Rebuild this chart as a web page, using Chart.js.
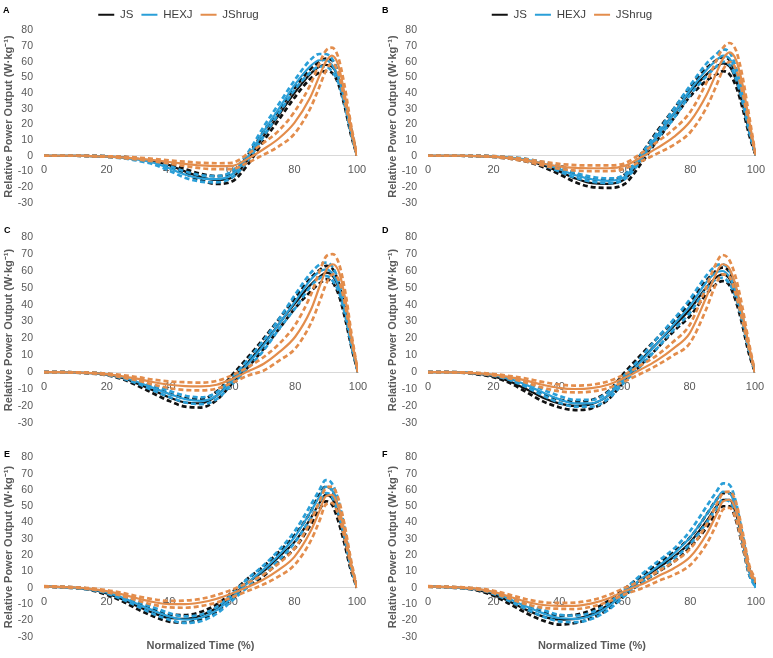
<!DOCTYPE html>
<html>
<head>
<meta charset="utf-8">
<title>Relative power output curves</title>
<script src="https://cdn.jsdelivr.net/npm/chart.js@4.4.1/dist/chart.umd.min.js"></script>
<style>
  body { margin: 0; background: #fff; font-family: "Liberation Sans", Arial, sans-serif; }
  #page { position: relative; width: 773px; height: 658px; overflow: hidden; background: #fff; }
  .panel { position: absolute; }
  .tag { position: absolute; font-size: 9px; font-weight: bold; color: #000; line-height: 1; }
</style>
</head>
<body>
<div id="page">
  <div class="panel" style="left:0;top:0;width:385px;height:220px"><canvas id="chartA"></canvas></div>
  <div class="panel" style="left:385px;top:0;width:388px;height:220px"><canvas id="chartB"></canvas></div>
  <div class="panel" style="left:0;top:220px;width:385px;height:220px"><canvas id="chartC"></canvas></div>
  <div class="panel" style="left:385px;top:220px;width:388px;height:220px"><canvas id="chartD"></canvas></div>
  <div class="panel" style="left:0;top:440px;width:385px;height:218px"><canvas id="chartE"></canvas></div>
  <div class="panel" style="left:385px;top:440px;width:388px;height:218px"><canvas id="chartF"></canvas></div>
  <div class="tag" style="left:3px;top:6px">A</div>
  <div class="tag" style="left:382px;top:6px">B</div>
  <div class="tag" style="left:4px;top:226px">C</div>
  <div class="tag" style="left:382px;top:226px">D</div>
  <div class="tag" style="left:4px;top:450px">E</div>
  <div class="tag" style="left:382px;top:450px">F</div>
</div>

<script>
// --- Data ---
const seriesNames = ['JS', 'HEXJ', 'JShrug']
const normTime = [0, 5, 10, 15, 20, 25, 30, 35, 40, 45, 50, 55, 60, 65, 70, 75, 80, 85, 88, 90, 92, 94, 96, 98, 100]

// Panel A
const jsMeanA = [0, 0, 0, -0.2, -0.5, -1, -2, -3.5, -6, -10, -13.5, -15.5, -14, -3, 12, 26, 40, 52, 57, 58, 57, 50, 35, 16, 0]
const jsUpA = [0, 0, 0, 0, -0.3, -0.7, -1.5, -2.8, -5, -8.5, -11.5, -13, -11.5, 0, 15, 29, 43, 55, 60, 62, 61, 53, 37, 18, 0]
const jsLowA = [0, 0, 0, -0.3, -0.7, -1.3, -2.5, -4.2, -7, -11.5, -15.5, -18, -16.5, -6, 9, 23, 37, 49, 53, 54, 53, 46, 32, 14, 0]
const hexMeanA = [0, 0, 0, -0.2, -0.5, -1.2, -2.5, -4.5, -8, -12, -14.5, -15, -12, -1, 15, 30, 45, 57, 61, 61, 58, 50, 35, 16, 0]
const hexUpA = [0, 0, 0, 0, -0.3, -0.8, -1.8, -3.5, -6.5, -10, -12.5, -13, -10, 1.5, 18, 33, 48, 61, 65, 65, 62, 53, 37, 17, 0]
const hexLowA = [0, 0, 0, -0.3, -0.7, -1.6, -3.2, -5.5, -9.5, -14, -16.5, -17, -14, -3.5, 12, 27, 42, 53, 57, 57, 54, 47, 33, 15, 0]
const shrMeanA = [0, 0, 0, -0.2, -0.5, -1, -1.8, -2.8, -4, -5.2, -6.2, -6.7, -6.5, -2, 4, 11, 21, 37, 51, 60, 64, 58, 40, 19, 0]
const shrUpA = [0, 0, 0, 0, -0.3, -0.6, -1.2, -2, -3, -3.8, -4.5, -4.8, -4.5, 1, 8, 16, 28, 45, 59, 67, 69, 63, 45, 21, 0]
const shrLowA = [0, 0, 0, -0.3, -0.7, -1.4, -2.4, -3.6, -5, -6.6, -8, -8.6, -8.5, -4.5, 0.5, 6, 14, 30, 44, 54, 59, 53, 36, 17, 0]

// Panel B
const jsMeanB = [0, 0, 0, -0.2, -0.6, -1.5, -3, -6, -10, -14.5, -17.5, -18, -15, -2, 13, 27, 41, 52, 57, 59, 57, 48, 33, 15, 0]
const jsUpB = [0, 0, 0, 0, -0.4, -1.1, -2.3, -4.8, -8.3, -12, -15, -15.5, -12, 1, 16, 30, 44, 56, 61, 63, 61, 51, 35, 16, 0]
const jsLowB = [0, 0, 0, -0.3, -0.8, -1.9, -3.7, -7.2, -11.7, -17, -20, -20.5, -18, -5, 10, 24, 38, 48, 52, 54, 52, 44, 30, 13, 0]
const hexMeanB = [0, 0, 0, -0.2, -0.5, -1.2, -2.5, -5, -8.5, -12.5, -15, -16, -13.5, -1, 13, 27, 42, 55, 61, 64, 62, 53, 37, 17, 0]
const hexUpB = [0, 0, 0, 0, -0.3, -0.9, -2, -4, -7, -11, -13.5, -14.5, -12, 1, 15, 30, 45, 59, 65, 68, 66, 56, 39, 18, 0]
const hexLowB = [0, 0, 0, -0.3, -0.7, -1.5, -3, -6, -10, -14, -16.5, -17.5, -15, -3, 11, 24, 39, 51, 57, 60, 58, 49, 34, 15, 0]
const shrMeanB = [0, 0, 0, -0.2, -0.6, -1.5, -3, -5, -6.8, -7.8, -8, -8, -6.5, -1, 5, 12, 22, 39, 53, 62, 66, 61, 45, 22, 0]
const shrUpB = [0, 0, 0, 0, -0.3, -1, -2.2, -3.8, -5.2, -6, -6.2, -6.2, -4.8, 1.5, 9, 17, 28, 47, 61, 69, 72, 67, 50, 25, 0]
const shrLowB = [0, 0, 0, -0.3, -0.8, -1.9, -3.7, -6.2, -8.3, -9.5, -9.8, -9.8, -8.2, -3.5, 1.5, 7, 15, 31, 45, 55, 60, 55, 40, 19, 0]

// Panel C
const jsMeanC = [0, 0, -0.2, -0.6, -1.5, -3.5, -7, -11, -15, -18, -18.5, -14, -4, 6, 17, 29, 41, 52, 57, 59, 57, 49, 34, 15, 0]
const jsUpC = [0, 0, -0.1, -0.4, -1.1, -2.8, -5.8, -9.2, -12.8, -15.5, -16, -11.5, -1.5, 9, 20, 32, 44, 56, 61, 63, 61, 52, 36, 16, 0]
const jsLowC = [0, 0, -0.3, -0.8, -1.9, -4.2, -8.2, -12.8, -17.2, -20.5, -21, -16.5, -6.5, 3, 14, 26, 38, 48, 53, 55, 53, 45, 31, 14, 0]
const hexMeanC = [0, 0, -0.2, -0.5, -1.3, -3, -6, -9.5, -13, -16, -17, -14, -5, 5, 16, 29, 42, 55, 60, 61, 58, 50, 35, 16, 0]
const hexUpC = [0, 0, -0.1, -0.3, -0.9, -2.3, -5, -8, -11.2, -14, -15, -12, -3, 7.5, 19, 32, 46, 59, 64, 65, 62, 53, 37, 17, 0]
const hexLowC = [0, 0, -0.3, -0.7, -1.7, -3.7, -7, -11, -14.8, -18, -19, -16, -7, 2.5, 13, 26, 38, 51, 56, 57, 54, 47, 33, 15, 0]
const shrMeanC = [0, 0, -0.2, -0.5, -1.2, -2.5, -4, -6, -7.5, -8.3, -8.5, -7.5, -4, 0.5, 5, 12, 21, 37, 52, 61, 64, 59, 43, 20, 0]
const shrUpC = [0, 0, -0.1, -0.3, -0.8, -1.8, -3, -4.5, -5.5, -6, -6.2, -5.2, -1.8, 3, 9, 17, 28, 46, 61, 69, 70, 64, 47, 22, 0]
const shrLowC = [0, 0, -0.3, -0.7, -1.6, -3.2, -5, -7.5, -9.5, -10.6, -10.8, -9.8, -6.2, -2, 1, 7, 14, 29, 43, 53, 58, 54, 39, 18, 0]

// Panel D
const jsMeanD = [0, 0, -0.2, -1, -2.5, -5.5, -10, -15, -18.5, -20, -19, -14, -3, 7, 17, 27, 37, 50, 56, 58, 56, 47, 32, 14, 0]
const jsUpD = [0, 0, -0.1, -0.7, -2, -4.5, -8.3, -12.8, -16.2, -17.5, -16.5, -11.5, -0.5, 10, 20, 30, 41, 54, 60, 62, 60, 51, 35, 15, 0]
const jsLowD = [0, 0, -0.3, -1.3, -3, -6.5, -11.7, -17.2, -20.8, -22.5, -21.5, -16.5, -5.5, 4, 14, 24, 33, 46, 52, 54, 52, 43, 29, 12, 0]
const hexMeanD = [0, 0, -0.2, -0.7, -1.8, -4, -7.5, -12, -16, -18.5, -18.5, -14, -4, 6, 17, 28, 39, 53, 59, 60, 57, 48, 33, 15, 0]
const hexUpD = [0, 0, -0.1, -0.5, -1.4, -3.3, -6.3, -10.3, -14, -16.5, -16.5, -12, -2, 8.5, 20, 31, 43, 57, 63, 64, 61, 51, 35, 16, 0]
const hexLowD = [0, 0, -0.3, -0.9, -2.2, -4.7, -8.7, -13.7, -18, -20.5, -20.5, -16, -6, 3.5, 14, 25, 35, 49, 55, 56, 53, 45, 31, 14, 0]
const shrMeanD = [0, 0, -0.2, -0.6, -1.5, -3, -5, -7.5, -9.3, -10, -9.5, -7.5, -3.5, 1.5, 7, 14, 23, 44, 58, 64, 62, 52, 36, 17, 0]
const shrUpD = [0, 0, -0.1, -0.4, -1.1, -2.3, -3.8, -5.8, -7.3, -8, -7.5, -5.5, -1.5, 4, 10, 18, 28, 50, 64, 69.5, 67, 57, 40, 19, 0]
const shrLowD = [0, 0, -0.3, -0.8, -1.9, -3.7, -6.2, -9.2, -11.3, -12, -11.5, -9.5, -5.5, -1, 4, 10, 17, 37, 52, 58, 57, 47, 32, 15, 0]

// Panel E
const jsMeanE = [0.8, 0.5, 0, -1, -3.5, -7, -11.5, -15.5, -18.5, -19, -17, -12.5, -5, 3, 10, 19, 28, 42, 52, 57, 55, 45, 30, 13, 0]
const jsUpE = [0.8, 0.6, 0.2, -0.6, -2.8, -5.8, -9.8, -13.5, -16.3, -16.7, -14.8, -10.3, -2.8, 5.5, 13, 22, 32, 46, 57, 62, 60, 49, 33, 14, 0]
const jsLowE = [0.8, 0.4, -0.2, -1.4, -4.2, -8.2, -13.2, -17.5, -20.7, -21.3, -19.2, -14.7, -7.2, 0.5, 7, 16, 24, 38, 48, 53, 51, 41, 27, 11, 0]
const hexMeanE = [0.8, 0.5, 0, -0.8, -2.8, -6, -10, -14, -17.5, -19.5, -18.5, -14, -6, 3, 11, 20, 31, 46, 56, 62, 60, 50, 34, 15, 0]
const hexUpE = [0.9, 0.6, 0.2, -0.5, -2.2, -5, -8.5, -12, -15.5, -17.5, -16.5, -12, -4, 5.5, 13.5, 23, 34.5, 50, 60, 66, 64, 54, 37, 16, 0]
const hexLowE = [0.7, 0.4, -0.2, -1.1, -3.4, -7, -11.5, -16, -19.5, -21.5, -20.5, -16, -8, 0.5, 8.5, 17, 27.5, 42, 52, 58, 56, 46, 31, 13, 0]
const shrMeanE = [0.8, 0.6, 0.2, -0.6, -2, -4, -6.5, -8.7, -10, -10, -9, -6.8, -3.5, 0.5, 5, 11, 19, 34, 47, 56, 57, 50, 35, 16, 0]
const shrUpE = [1, 0.8, 0.4, -0.3, -1.4, -3.1, -5.2, -7, -8, -7.8, -6.8, -4.5, -1.2, 3, 8, 15, 24, 40, 53, 61, 62, 55, 39, 18, 0]
const shrLowE = [0.6, 0.4, 0, -0.9, -2.6, -4.9, -7.8, -10.4, -12, -12.2, -11.2, -9.1, -5.8, -2, 2, 7, 14, 28, 41, 51, 52, 45, 31, 14, 0]

// Panel F
const jsMeanF = [0.8, 0.5, 0, -1.2, -4, -8.5, -13.5, -17.5, -19.5, -19, -16, -10.5, -2.5, 5, 12, 19, 28, 41, 50, 54, 54, 45, 28, 10, 2]
const jsUpF = [0.9, 0.6, 0.2, -0.8, -3.2, -7, -11.5, -15, -17, -16.5, -13.5, -8, -0.5, 7, 14.5, 22, 31, 45, 54, 58, 58, 49, 31, 12, 2]
const jsLowF = [0.7, 0.4, -0.2, -1.6, -4.8, -10, -15.5, -20, -22.5, -21.5, -18.5, -13, -4.5, 3, 9.5, 16, 25, 37, 46, 50, 50, 41, 25, 8, 2]
const hexMeanF = [0.8, 0.5, 0, -0.8, -3, -7, -11.5, -15.5, -18.5, -19, -17, -11.5, -3, 5.5, 13, 21, 31, 45, 54, 59, 58, 48, 29, 10, 0]
const hexUpF = [0.9, 0.6, 0.2, -0.5, -2.3, -5.8, -10, -13.5, -16.5, -17, -15, -9.5, -1, 8, 16, 24, 35, 50, 59, 64, 63, 52, 32, 11, 0]
const hexLowF = [0.7, 0.4, -0.2, -1.1, -3.7, -8.2, -13, -17.5, -20.5, -21, -19, -13.5, -5, 3, 10, 18, 27, 40, 49, 54, 53, 44, 26, 8, 0]
const shrMeanF = [0.8, 0.6, 0.2, -0.6, -2.5, -5.5, -8.5, -10.5, -11, -11, -9.5, -6.5, -2, 2, 7, 12, 19, 33, 45, 53, 54, 47, 30, 12, 4]
const shrUpF = [1, 0.8, 0.4, -0.3, -1.8, -4.3, -7, -8.8, -9.2, -9, -7.5, -4.5, 0, 4.5, 10, 16, 24, 39, 51, 58, 59, 52, 34, 14, 5]
const shrLowF = [0.6, 0.4, 0, -0.9, -3.2, -6.7, -10, -12.2, -12.8, -13, -11.5, -8.5, -4, -0.5, 4, 8, 14, 27, 39, 48, 49, 42, 26, 10, 3]

// --- Styles ---
const seriesColors = ['#111111', '#2a9fd8', '#e38d4c']
const drawOrder = [3, 2, 1] // orange on top, black at the bottom

Chart.defaults.font.family = '"Liberation Sans", Arial, sans-serif'
Chart.defaults.color = '#595959'

// --- Panel layout (canvas sizes come from the HTML) ---
const panels = [
  { id: 'A', sets: [[jsMeanA, jsUpA, jsLowA], [hexMeanA, hexUpA, hexLowA], [shrMeanA, shrUpA, shrLowA]],
    legend: true, xTitle: false, yWidth: 44, titlePad: 2, pad: { top: 1, right: 28, bottom: 11, left: 0 } },
  { id: 'B', sets: [[jsMeanB, jsUpB, jsLowB], [hexMeanB, hexUpB, hexLowB], [shrMeanB, shrUpB, shrLowB]],
    legend: true, xTitle: false, yWidth: 43, titlePad: 1, pad: { top: 1, right: 14, bottom: 11, left: 0 } },
  { id: 'C', sets: [[jsMeanC, jsUpC, jsLowC], [hexMeanC, hexUpC, hexLowC], [shrMeanC, shrUpC, shrLowC]],
    legend: false, xTitle: false, yWidth: 44, titlePad: 2, pad: { top: 11, right: 27, bottom: 9, left: 0 } },
  { id: 'D', sets: [[jsMeanD, jsUpD, jsLowD], [hexMeanD, hexUpD, hexLowD], [shrMeanD, shrUpD, shrLowD]],
    legend: false, xTitle: false, yWidth: 43, titlePad: 1, pad: { top: 11, right: 18, bottom: 9, left: 0 } },
  { id: 'E', sets: [[jsMeanE, jsUpE, jsLowE], [hexMeanE, hexUpE, hexLowE], [shrMeanE, shrUpE, shrLowE]],
    legend: false, xTitle: true, yWidth: 44, titlePad: 2, pad: { top: 13, right: 28, bottom: 0, left: 0 } },
  { id: 'F', sets: [[jsMeanF, jsUpF, jsLowF], [hexMeanF, hexUpF, hexLowF], [shrMeanF, shrUpF, shrLowF]],
    legend: false, xTitle: true, yWidth: 43, titlePad: 1, pad: { top: 13, right: 15, bottom: 0, left: 0 } },
]

// one line dataset; dashed ones are the +/- SD bands
function makeSet(name, values, color, order, dashed) {
  return {
    label: dashed ? name + ' SD' : name,
    data: values.map((v, i) => ({ x: normTime[i], y: v })),
    borderColor: color,
    backgroundColor: color,
    borderWidth: dashed ? 2.7 : 2.2,
    borderDash: dashed ? [5, 3] : [],
    pointRadius: 0,
    tension: 0.4,
    cubicInterpolationMode: 'monotone',
    fill: false,
    order: order,
  }
}

panels.forEach((p) => {
  const datasets = []
  p.sets.forEach((group, s) => {
    const [mean, up, low] = group
    datasets.push(makeSet(seriesNames[s], mean, seriesColors[s], drawOrder[s], false))
    datasets.push(makeSet(seriesNames[s], up, seriesColors[s], drawOrder[s], true))
    datasets.push(makeSet(seriesNames[s], low, seriesColors[s], drawOrder[s], true))
  })

  new Chart(document.getElementById('chart' + p.id), {
    type: 'line',
    data: { datasets },
    options: {
      responsive: true,
      maintainAspectRatio: false,
      animation: false,
      events: [],
      layout: { padding: p.pad },
      scales: {
        x: {
          type: 'linear',
          position: { y: 0 },
          min: 0,
          max: 100,
          afterFit: (scale) => { scale.height = 0 },
          grid: { display: false, drawTicks: false },
          border: { display: true, color: '#d9d9d9', width: 1 },
          ticks: { stepSize: 20, padding: 8, maxRotation: 0, font: { size: 11 }, color: '#595959' },
        },
        y: {
          min: -30,
          max: 80,
          afterFit: (scale) => { scale.width = p.yWidth },
          grid: { display: false, drawTicks: false },
          border: { display: false },
          ticks: { stepSize: 10, padding: 11, font: { size: 10.5 }, color: '#595959' },
          title: {
            display: true,
            text: 'Relative Power Output (W·kg⁻¹)',
            font: { size: 11, weight: 'bold' },
            color: '#595959',
            padding: { top: p.titlePad, bottom: 0 },
          },
        },
      },
      plugins: {
        tooltip: { enabled: false },
        legend: {
          display: p.legend,
          position: 'top',
          labels: {
            usePointStyle: true,
            pointStyle: 'line',
            pointStyleWidth: 16,
            padding: 8,
            color: '#404040',
            font: { size: 11.5 },
            filter: (item) => !item.text.includes('SD'),
            sort: (a, b) => a.datasetIndex - b.datasetIndex,
          },
        },
        title: {
          display: p.xTitle,
          position: 'bottom',
          fullSize: false,
          text: 'Normalized Time (%)',
          font: { size: 11, weight: 'bold' },
          color: '#595959',
          padding: { top: 3, bottom: 5 },
        },
      },
    },
  })
})
</script>
</body>
</html>
